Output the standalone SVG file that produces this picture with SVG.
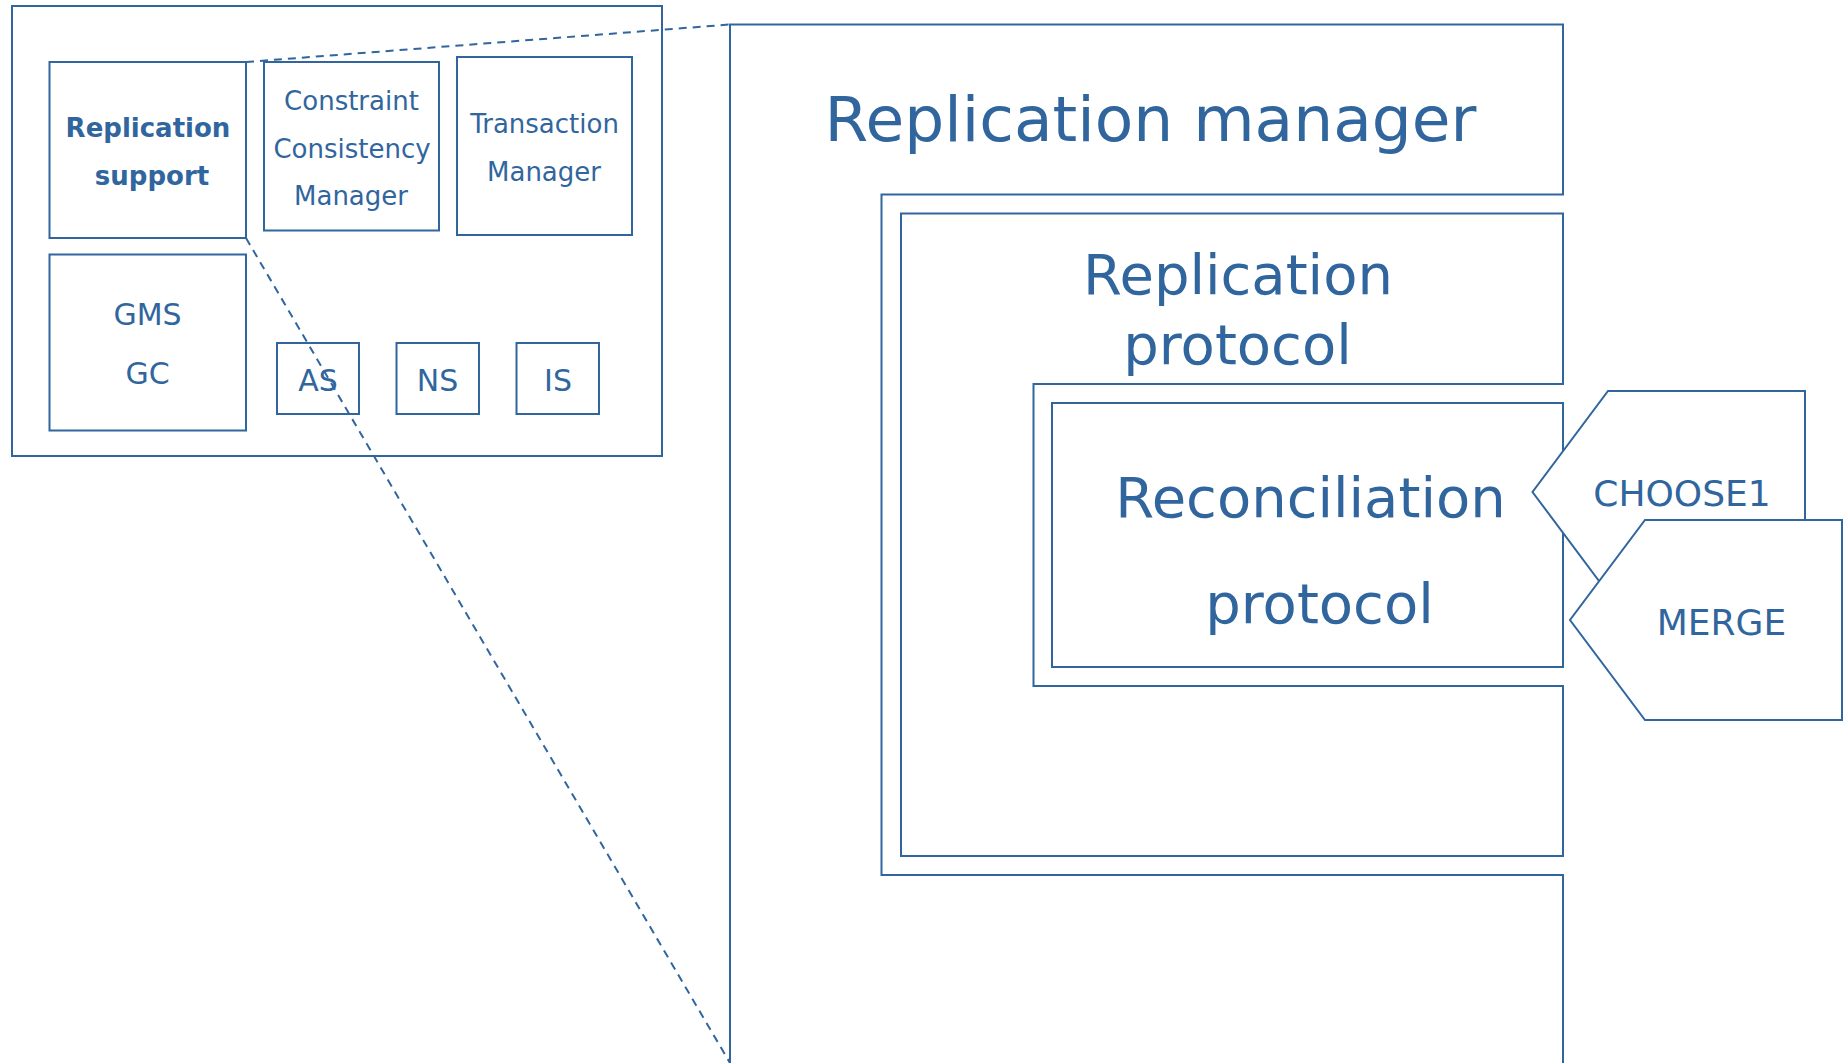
<svg xmlns="http://www.w3.org/2000/svg" width="1845" height="1063" viewBox="0 0 1845 1063">
  <style>
    .box { fill: #ffffff; stroke: #30669d; stroke-width: 2; }
    .frame { fill: none; stroke: #30669d; stroke-width: 2; }
    .lbl { font-family: "DejaVu Sans", Verdana, sans-serif; fill: #30669d; text-anchor: middle; }
    .bold { font-weight: bold; }
    .dash { fill: none; stroke: #30669d; stroke-width: 2; stroke-dasharray: 8 6; }
  </style>
  <rect width="1845" height="1063" fill="#ffffff"/>

  <!-- Component panel -->
  <g id="panel">
    <rect class="box" x="12" y="6" width="650" height="450"/>
  </g>
  <g id="replication-support">
    <rect class="box" x="49.5" y="62" width="196.5" height="176"/>
    <text class="lbl bold" font-size="26" x="148" y="136.5">Replication</text>
    <text class="lbl bold" font-size="26" x="152" y="184.5">support</text>
  </g>
  <g id="constraint-consistency-manager">
    <rect class="box" x="264" y="62" width="175" height="168.5"/>
    <text class="lbl" font-size="26" x="351.5" y="109.5">Constraint</text>
    <text class="lbl" font-size="26" x="352" y="157.5">Consistency</text>
    <text class="lbl" font-size="26" x="351" y="204.5">Manager</text>
  </g>
  <g id="transaction-manager">
    <rect class="box" x="457" y="57" width="175" height="178"/>
    <text class="lbl" font-size="26" x="544.5" y="132.5">Transaction</text>
    <text class="lbl" font-size="26" x="544" y="180.5">Manager</text>
  </g>
  <g id="gms-gc">
    <rect class="box" x="49.5" y="254.5" width="196.5" height="176"/>
    <text class="lbl" font-size="30" x="147.5" y="325">GMS</text>
    <text class="lbl" font-size="30" x="147.5" y="383.5">GC</text>
  </g>
  <g id="as">
    <rect class="box" x="277" y="343" width="82" height="71"/>
    <text class="lbl" font-size="30" x="318" y="390.5">AS</text>
  </g>
  <g id="ns">
    <rect class="box" x="396.5" y="343" width="82.5" height="71"/>
    <text class="lbl" font-size="30" x="437.5" y="390.5">NS</text>
  </g>
  <g id="is">
    <rect class="box" x="516.5" y="343" width="82.5" height="71"/>
    <text class="lbl" font-size="30" x="558" y="390.5">IS</text>
  </g>

  <!-- Zoom guides from the Replication support box to the detail view -->
  <g id="connectors">
    <line class="dash" x1="246" y1="62" x2="730" y2="24.5"/>
    <line class="dash" x1="246" y1="238" x2="730" y2="1063"/>
  </g>

  <!-- Detail view: nested frames -->
  <g id="replication-manager">
    <path class="frame" d="M730,1063 V24.5 H1563 V194.5 H881.5 V875 H1563 V1063"/>
    <text class="lbl" font-size="63" x="1150.5" y="141">Replication manager</text>
  </g>
  <g id="replication-protocol">
    <path class="frame" d="M901,213.5 H1563 V384 H1033.5 V686 H1563 V856 H901 Z"/>
    <text class="lbl" font-size="56" x="1238" y="293.5">Replication</text>
    <text class="lbl" font-size="56" x="1237.5" y="363.5">protocol</text>
  </g>
  <g id="reconciliation-protocol">
    <rect class="box" x="1052" y="403" width="511" height="264"/>
    <text class="lbl" font-size="56" x="1310.5" y="517">Reconciliation</text>
    <text class="lbl" font-size="56" x="1319.5" y="622.5">protocol</text>
  </g>
  <g id="choose1">
    <polygon class="box" points="1608,391 1805,391 1805,593 1608,593 1532.5,492"/>
    <text class="lbl" font-size="36" x="1682" y="505.5">CHOOSE1</text>
  </g>
  <g id="merge">
    <polygon class="box" points="1645,520 1842,520 1842,720 1645,720 1570,620"/>
    <text class="lbl" font-size="36" x="1721.5" y="635">MERGE</text>
  </g>
</svg>
